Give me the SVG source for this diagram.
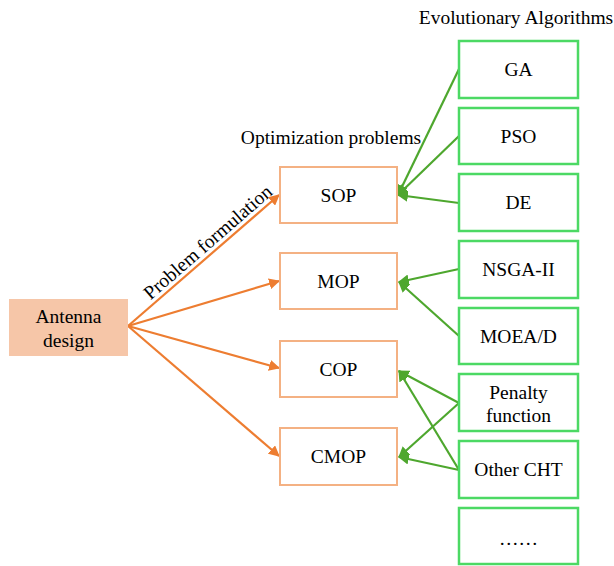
<svg xmlns="http://www.w3.org/2000/svg" width="614" height="566" viewBox="0 0 614 566">
  <style>
    text { font-family: "Liberation Serif", "Times New Roman", serif; font-size: 19.5px; fill: #000; }
    .mid { text-anchor: middle; }
    .prob rect { fill: #fff; stroke: #F4B183; stroke-width: 2; }
    .algo rect { fill: #fff; stroke: #4CD964; stroke-width: 2.5; }
    .src rect { fill: #F6C6A8; stroke: none; }
    .orange { stroke: #ED7D31; stroke-width: 2.2; fill: none; marker-end: url(#arrO); }
    .green { stroke: #4EA72E; stroke-width: 2.2; fill: none; marker-end: url(#arrG); }
  </style>
  <defs>
    <marker id="arrO" viewBox="0 0 10 10" refX="9" refY="5" markerWidth="5" markerHeight="5" orient="auto" markerUnits="strokeWidth">
      <path d="M0,0 L10,5 L0,10 z" fill="#ED7D31"/>
    </marker>
    <marker id="arrG" viewBox="0 0 10 10" refX="9" refY="5" markerWidth="5" markerHeight="5" orient="auto" markerUnits="strokeWidth">
      <path d="M0,0 L10,5 L0,10 z" fill="#4EA72E"/>
    </marker>
  </defs>

  <!-- headings -->
  <text x="516" y="24" class="mid">Evolutionary Algorithms</text>
  <text x="331" y="144" class="mid">Optimization problems</text>
  <text transform="translate(212,247) rotate(-41)" class="mid">Problem formulation</text>

  <!-- connectors -->
  <g id="connectors">
    <line class="orange" x1="128" y1="326" x2="279" y2="195"/>
    <line class="orange" x1="128" y1="326" x2="279" y2="281"/>
    <line class="orange" x1="128" y1="326" x2="279" y2="368"/>
    <line class="orange" x1="128" y1="326" x2="279" y2="456"/>

    <line class="green" x1="459" y1="69" x2="398" y2="195"/>
    <line class="green" x1="459" y1="136" x2="398" y2="195"/>
    <line class="green" x1="459" y1="203" x2="398" y2="195"/>
    <line class="green" x1="459" y1="269" x2="399" y2="282"/>
    <line class="green" x1="459" y1="336" x2="399" y2="282"/>
    <line class="green" x1="459" y1="403" x2="399" y2="371"/>
    <line class="green" x1="459" y1="403" x2="399" y2="457"/>
    <line class="green" x1="459" y1="470" x2="399" y2="371"/>
    <line class="green" x1="459" y1="470" x2="399" y2="457"/>
  </g>

  <!-- source node -->
  <g id="antenna" class="src">
    <rect x="9" y="299" width="119" height="57"/>
    <text x="68.5" y="323" class="mid">Antenna</text>
    <text x="68.5" y="347" class="mid">design</text>
  </g>

  <!-- optimization problems -->
  <g id="sop" class="prob">
    <rect x="280" y="167" width="117" height="56"/>
    <text x="338.5" y="202" class="mid">SOP</text>
  </g>
  <g id="mop" class="prob">
    <rect x="280" y="253" width="117" height="56"/>
    <text x="338.5" y="288" class="mid">MOP</text>
  </g>
  <g id="cop" class="prob">
    <rect x="280" y="341" width="117" height="56"/>
    <text x="338.5" y="376" class="mid">COP</text>
  </g>
  <g id="cmop" class="prob">
    <rect x="280" y="428" width="117" height="57"/>
    <text x="338.5" y="463" class="mid">CMOP</text>
  </g>

  <!-- algorithms -->
  <g id="ga" class="algo">
    <rect x="459" y="41" width="119" height="57"/>
    <text x="518.5" y="76" class="mid">GA</text>
  </g>
  <g id="pso" class="algo">
    <rect x="459" y="108" width="119" height="56"/>
    <text x="518.5" y="143" class="mid">PSO</text>
  </g>
  <g id="de" class="algo">
    <rect x="459" y="174" width="119" height="57"/>
    <text x="518.5" y="209" class="mid">DE</text>
  </g>
  <g id="nsga2" class="algo">
    <rect x="459" y="241" width="119" height="57"/>
    <text x="518.5" y="276" class="mid">NSGA-II</text>
  </g>
  <g id="moead" class="algo">
    <rect x="459" y="308" width="119" height="56"/>
    <text x="518.5" y="343" class="mid">MOEA/D</text>
  </g>
  <g id="penalty" class="algo">
    <rect x="459" y="374" width="119" height="57"/>
    <text x="518.5" y="399" class="mid">Penalty</text>
    <text x="518.5" y="422" class="mid">function</text>
  </g>
  <g id="othercht" class="algo">
    <rect x="459" y="441" width="119" height="57"/>
    <text x="518.5" y="476" class="mid">Other CHT</text>
  </g>
  <g id="more" class="algo">
    <rect x="459" y="508" width="119" height="56"/>
    <text x="518.5" y="545" class="mid">……</text>
  </g>
</svg>
